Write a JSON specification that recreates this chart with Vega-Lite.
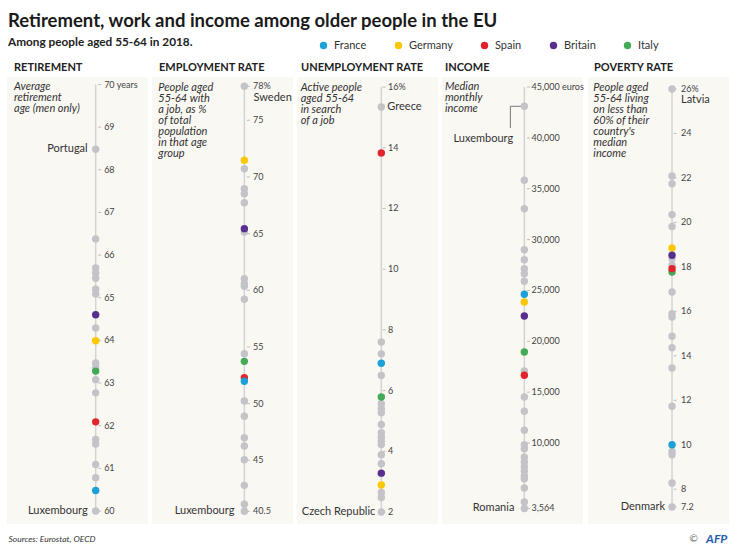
{
  "$schema": "https://vega.github.io/schema/vega-lite/v6.json",
  "background": "white",
  "padding": {"left": 7, "top": 11, "right": 5, "bottom": 1},
  "config": {"font": "Lato", "view": {"stroke": null}},
  "title": {
    "text": "Retirement, work and income among older people in the EU",
    "subtitle": "Among people aged 55-64 in 2018.",
    "anchor": "start", "font": "Lato", "fontSize": 18.5, "fontWeight": "bold", "color": "#1a1a1a",
    "subtitleFont": "Lato", "subtitleFontSize": 11.8, "subtitleFontWeight": "bold", "subtitleColor": "#222",
    "subtitlePadding": 7, "offset": -9, "dx": 1
  },
  "datasets": {
    "retirement": [
      {"country": "Portugal", "value": 68.48},
      {"country": "Other", "value": 66.38},
      {"country": "Other", "value": 65.70},
      {"country": "Other", "value": 65.58},
      {"country": "Other", "value": 65.46},
      {"country": "Other", "value": 65.20},
      {"country": "Other", "value": 65.09},
      {"country": "Other", "value": 64.29},
      {"country": "Other", "value": 63.47},
      {"country": "Other", "value": 63.36},
      {"country": "Other", "value": 63.08},
      {"country": "Other", "value": 62.77},
      {"country": "Other", "value": 61.68},
      {"country": "Other", "value": 61.57},
      {"country": "Other", "value": 61.09},
      {"country": "Other", "value": 60.78},
      {"country": "Luxembourg", "value": 60.0},
      {"country": "Britain", "value": 64.60},
      {"country": "Germany", "value": 63.99},
      {"country": "Italy", "value": 63.28},
      {"country": "Spain", "value": 62.09},
      {"country": "France", "value": 60.48}
    ],
    "retirement_ticks": [
      {"tick": 70, "label": "70 years"}, {"tick": 69, "label": "69"}, {"tick": 68, "label": "68"},
      {"tick": 67, "label": "67"}, {"tick": 66, "label": "66"}, {"tick": 65, "label": "65"},
      {"tick": 64, "label": "64"}, {"tick": 63, "label": "63"}, {"tick": 62, "label": "62"},
      {"tick": 61, "label": "61"}, {"tick": 60, "label": "60"}
    ],
    "employment": [
      {"country": "Sweden", "value": 78.0},
      {"country": "Other", "value": 70.73},
      {"country": "Other", "value": 68.96},
      {"country": "Other", "value": 68.52},
      {"country": "Other", "value": 67.73},
      {"country": "Other", "value": 65.14},
      {"country": "Other", "value": 61.02},
      {"country": "Other", "value": 60.58},
      {"country": "Other", "value": 60.35},
      {"country": "Other", "value": 59.21},
      {"country": "Other", "value": 54.41},
      {"country": "Other", "value": 50.23},
      {"country": "Other", "value": 48.88},
      {"country": "Other", "value": 46.99},
      {"country": "Other", "value": 46.26},
      {"country": "Other", "value": 45.05},
      {"country": "Other", "value": 42.79},
      {"country": "Other", "value": 41.12},
      {"country": "Luxembourg", "value": 40.5},
      {"country": "Germany", "value": 71.47},
      {"country": "Britain", "value": 65.44},
      {"country": "Italy", "value": 53.73},
      {"country": "Spain", "value": 52.29},
      {"country": "France", "value": 51.97}
    ],
    "employment_ticks": [
      {"tick": 78, "label": "78%"}, {"tick": 75, "label": "75"}, {"tick": 70, "label": "70"},
      {"tick": 65, "label": "65"}, {"tick": 60, "label": "60"}, {"tick": 55, "label": "55"},
      {"tick": 50, "label": "50"}, {"tick": 45, "label": "45"}, {"tick": 40.5, "label": "40.5"}
    ],
    "unemployment": [
      {"country": "Greece", "value": 15.34},
      {"country": "Other", "value": 7.60},
      {"country": "Other", "value": 7.21},
      {"country": "Other", "value": 6.50},
      {"country": "Other", "value": 5.57},
      {"country": "Other", "value": 5.40},
      {"country": "Other", "value": 5.27},
      {"country": "Other", "value": 4.88},
      {"country": "Other", "value": 4.61},
      {"country": "Other", "value": 4.47},
      {"country": "Other", "value": 4.33},
      {"country": "Other", "value": 4.22},
      {"country": "Other", "value": 3.89},
      {"country": "Other", "value": 3.59},
      {"country": "Other", "value": 2.64},
      {"country": "Other", "value": 2.48},
      {"country": "Czech Republic", "value": 2.0},
      {"country": "Spain", "value": 13.83},
      {"country": "France", "value": 6.90},
      {"country": "Italy", "value": 5.79},
      {"country": "Britain", "value": 3.28},
      {"country": "Germany", "value": 2.89}
    ],
    "unemployment_ticks": [
      {"tick": 16, "label": "16%"}, {"tick": 14, "label": "14"}, {"tick": 12, "label": "12"},
      {"tick": 10, "label": "10"}, {"tick": 8, "label": "8"}, {"tick": 6, "label": "6"},
      {"tick": 4, "label": "4"}, {"tick": 2, "label": "2"}
    ],
    "income": [
      {"country": "Luxembourg", "value": 43103},
      {"country": "Other", "value": 35828},
      {"country": "Other", "value": 33036},
      {"country": "Other", "value": 29005},
      {"country": "Other", "value": 28022},
      {"country": "Other", "value": 27137},
      {"country": "Other", "value": 26646},
      {"country": "Other", "value": 25898},
      {"country": "Other", "value": 17080},
      {"country": "Other", "value": 14524},
      {"country": "Other", "value": 13118},
      {"country": "Other", "value": 11251},
      {"country": "Other", "value": 9835},
      {"country": "Other", "value": 9442},
      {"country": "Other", "value": 8596},
      {"country": "Other", "value": 8134},
      {"country": "Other", "value": 7672},
      {"country": "Other", "value": 7220},
      {"country": "Other", "value": 6758},
      {"country": "Other", "value": 6493},
      {"country": "Other", "value": 5578},
      {"country": "Other", "value": 4202},
      {"country": "Romania", "value": 3564},
      {"country": "France", "value": 24620},
      {"country": "Germany", "value": 23863},
      {"country": "Britain", "value": 22487},
      {"country": "Italy", "value": 18948},
      {"country": "Spain", "value": 16657}
    ],
    "income_ticks": [
      {"tick": 45000, "label": "45,000 euros"}, {"tick": 40000, "label": "40,000"},
      {"tick": 35000, "label": "35,000"}, {"tick": 30000, "label": "30,000"},
      {"tick": 25000, "label": "25,000"}, {"tick": 20000, "label": "20,000"},
      {"tick": 15000, "label": "15,000"}, {"tick": 10000, "label": "10,000"},
      {"tick": 3564, "label": "3,564"}
    ],
    "poverty": [
      {"country": "Latvia", "value": 26.0},
      {"country": "Other", "value": 22.09},
      {"country": "Other", "value": 21.74},
      {"country": "Other", "value": 20.35},
      {"country": "Other", "value": 19.82},
      {"country": "Other", "value": 18.37},
      {"country": "Other", "value": 18.07},
      {"country": "Other", "value": 16.87},
      {"country": "Other", "value": 15.89},
      {"country": "Other", "value": 15.74},
      {"country": "Other", "value": 14.88},
      {"country": "Other", "value": 14.36},
      {"country": "Other", "value": 13.45},
      {"country": "Other", "value": 11.73},
      {"country": "Other", "value": 9.70},
      {"country": "Other", "value": 9.55},
      {"country": "Other", "value": 8.28},
      {"country": "Denmark", "value": 7.2},
      {"country": "Germany", "value": 18.85},
      {"country": "Italy", "value": 17.77},
      {"country": "Britain", "value": 18.52},
      {"country": "Spain", "value": 17.92},
      {"country": "France", "value": 10.0}
    ],
    "poverty_ticks": [
      {"tick": 26, "label": "26%"}, {"tick": 24, "label": "24"}, {"tick": 22, "label": "22"},
      {"tick": 20, "label": "20"}, {"tick": 18, "label": "18"}, {"tick": 16, "label": "16"},
      {"tick": 14, "label": "14"}, {"tick": 12, "label": "12"}, {"tick": 10, "label": "10"},
      {"tick": 8, "label": "8"}, {"tick": 7.2, "label": "7.2"}
    ]
  },
  "spacing": 9,
  "vconcat": [
    {
      "spacing": 4,
      "hconcat": [
        {
          "width": 141, "height": 447,
          "view": {"fill": "#faf8f3", "stroke": null},
          "title": {"text": "RETIREMENT", "anchor": "start", "font": "Lato", "fontSize": 11, "fontWeight": "bold", "color": "#222", "offset": 4, "dx": 7},
          "layer": [
            {"data": {"values": [{"low": 60, "high": 70}]}, "mark": {"type": "rule", "color": "#d4d4d4", "strokeWidth": 1.5},
             "encoding": {"x": {"datum": 0.629, "type": "quantitative", "scale": {"domain": [0, 1]}, "axis": null},
                          "y": {"field": "low", "type": "quantitative", "scale": {"domain": [59.695, 70.176], "nice": false, "zero": false}, "axis": null},
                          "y2": {"field": "high"}}},
            {"data": {"name": "retirement_ticks"}, "mark": {"type": "rule", "color": "#bbbbbb", "strokeWidth": 1},
             "encoding": {"x": {"datum": 0.647, "type": "quantitative"}, "x2": {"datum": 0.668}, "y": {"field": "tick", "type": "quantitative"}}},
            {"data": {"name": "retirement_ticks"}, "mark": {"type": "text", "align": "left", "baseline": "middle", "fontSize": 9, "color": "#444"},
             "encoding": {"x": {"datum": 0.689, "type": "quantitative"}, "y": {"field": "tick", "type": "quantitative"}, "text": {"field": "label"}}},
            {"data": {"name": "retirement"}, "transform": [{"filter": {"not": {"field": "country", "oneOf": ["France", "Germany", "Spain", "Britain", "Italy"]}}}],
             "mark": {"type": "circle", "size": 55, "opacity": 1, "color": "#c3c3c8"},
             "encoding": {"x": {"datum": 0.629, "type": "quantitative"}, "y": {"field": "value", "type": "quantitative"}}},
            {"data": {"name": "retirement"}, "transform": [{"filter": {"field": "country", "oneOf": ["France", "Germany", "Spain", "Britain", "Italy"]}}],
             "mark": {"type": "circle", "size": 55, "opacity": 1},
             "encoding": {"x": {"datum": 0.629, "type": "quantitative"}, "y": {"field": "value", "type": "quantitative"},
                          "color": {"field": "country", "type": "nominal",
                                    "scale": {"domain": ["France", "Germany", "Spain", "Britain", "Italy"], "range": ["#1ba1d8", "#fcc703", "#e1242b", "#57308e", "#45a95a"]},
                                    "legend": {"title": null, "orient": "none", "legendX": 311, "legendY": -37, "direction": "horizontal", "columns": 5, "gridAlign": "none", "columnPadding": 26, "symbolType": "circle", "symbolSize": 55, "symbolStrokeWidth": 0, "labelFont": "Lato", "labelFontSize": 11, "labelColor": "#333", "labelOffset": 5}}}},
            {"data": {"name": "retirement"}, "transform": [{"filter": {"field": "country", "oneOf": ["Portugal", "Luxembourg"]}}],
             "mark": {"type": "text", "align": "right", "baseline": "middle", "dx": -8, "fontSize": 11, "color": "#333"},
             "encoding": {"x": {"datum": 0.629, "type": "quantitative"}, "y": {"field": "value", "type": "quantitative"}, "text": {"field": "country"}}},
            {"data": {"values": [{"note": "Average\nretirement\nage (men only)"}]},
             "mark": {"type": "text", "align": "left", "baseline": "top", "lineBreak": "\n", "lineHeight": 11, "fontStyle": "italic", "fontSize": 11, "color": "#333", "dy": -3.5},
             "encoding": {"x": {"datum": 0.05, "type": "quantitative"}, "y": {"datum": 70, "type": "quantitative"}, "text": {"field": "note"}}}
          ]
        },
        {
          "width": 141, "height": 447,
          "view": {"fill": "#faf8f3", "stroke": null},
          "title": {"text": "EMPLOYMENT RATE", "anchor": "start", "font": "Lato", "fontSize": 11, "fontWeight": "bold", "color": "#222", "offset": 4, "dx": 7},
          "layer": [
            {"data": {"values": [{"low": 40.5, "high": 78}]}, "mark": {"type": "rule", "color": "#d4d4d4", "strokeWidth": 1.5},
             "encoding": {"x": {"datum": 0.655, "type": "quantitative", "scale": {"domain": [0, 1]}, "axis": null},
                          "y": {"field": "low", "type": "quantitative", "scale": {"domain": [39.38, 78.82], "nice": false, "zero": false}, "axis": null},
                          "y2": {"field": "high"}}},
            {"data": {"name": "employment_ticks"}, "mark": {"type": "rule", "color": "#bbbbbb", "strokeWidth": 1},
             "encoding": {"x": {"datum": 0.673, "type": "quantitative"}, "x2": {"datum": 0.694}, "y": {"field": "tick", "type": "quantitative"}}},
            {"data": {"name": "employment_ticks"}, "mark": {"type": "text", "align": "left", "baseline": "middle", "fontSize": 9, "color": "#444"},
             "encoding": {"x": {"datum": 0.717, "type": "quantitative"}, "y": {"field": "tick", "type": "quantitative"}, "text": {"field": "label"}}},
            {"data": {"name": "employment"}, "transform": [{"filter": {"not": {"field": "country", "oneOf": ["France", "Germany", "Spain", "Britain", "Italy"]}}}],
             "mark": {"type": "circle", "size": 55, "opacity": 1, "color": "#c3c3c8"},
             "encoding": {"x": {"datum": 0.655, "type": "quantitative"}, "y": {"field": "value", "type": "quantitative"}}},
            {"data": {"name": "employment"}, "transform": [{"filter": {"field": "country", "oneOf": ["France", "Germany", "Spain", "Britain", "Italy"]}}],
             "mark": {"type": "circle", "size": 55, "opacity": 1},
             "encoding": {"x": {"datum": 0.655, "type": "quantitative"}, "y": {"field": "value", "type": "quantitative"},
                          "color": {"field": "country", "type": "nominal",
                                    "scale": {"domain": ["France", "Germany", "Spain", "Britain", "Italy"], "range": ["#1ba1d8", "#fcc703", "#e1242b", "#57308e", "#45a95a"]},
                                    "legend": {"title": null, "orient": "none", "legendX": 311, "legendY": -37, "direction": "horizontal", "columns": 5, "gridAlign": "none", "columnPadding": 26, "symbolType": "circle", "symbolSize": 55, "symbolStrokeWidth": 0, "labelFont": "Lato", "labelFontSize": 11, "labelColor": "#333", "labelOffset": 5}}}},
            {"data": {"name": "employment"}, "transform": [{"filter": {"field": "country", "equal": "Luxembourg"}}],
             "mark": {"type": "text", "align": "right", "baseline": "middle", "dx": -10, "fontSize": 11, "color": "#333"},
             "encoding": {"x": {"datum": 0.655, "type": "quantitative"}, "y": {"field": "value", "type": "quantitative"}, "text": {"field": "country"}}},
            {"data": {"name": "employment"}, "transform": [{"filter": {"field": "country", "equal": "Sweden"}}],
             "mark": {"type": "text", "align": "left", "baseline": "middle", "dy": 11.5, "fontSize": 11, "color": "#333"},
             "encoding": {"x": {"datum": 0.72, "type": "quantitative"}, "y": {"field": "value", "type": "quantitative"}, "text": {"field": "country"}}},
            {"data": {"values": [{"note": "People aged\n55-64 with\na job, as %\nof total\npopulation\nin that age\ngroup"}]},
             "mark": {"type": "text", "align": "left", "baseline": "top", "lineBreak": "\n", "lineHeight": 11, "fontStyle": "italic", "fontSize": 11, "color": "#333", "dy": -4.5},
             "encoding": {"x": {"datum": 0.045, "type": "quantitative"}, "y": {"datum": 78, "type": "quantitative"}, "text": {"field": "note"}}}
          ]
        },
        {
          "width": 141, "height": 447,
          "view": {"fill": "#faf8f3", "stroke": null},
          "title": {"text": "UNEMPLOYMENT RATE", "anchor": "start", "font": "Lato", "fontSize": 11, "fontWeight": "bold", "color": "#222", "offset": 4, "dx": 4},
          "layer": [
            {"data": {"values": [{"low": 2, "high": 16}]}, "mark": {"type": "rule", "color": "#d4d4d4", "strokeWidth": 1.5},
             "encoding": {"x": {"datum": 0.598, "type": "quantitative", "scale": {"domain": [0, 1]}, "axis": null},
                          "y": {"field": "low", "type": "quantitative", "scale": {"domain": [1.605, 16.33], "nice": false, "zero": false}, "axis": null},
                          "y2": {"field": "high"}}},
            {"data": {"name": "unemployment_ticks"}, "mark": {"type": "rule", "color": "#bbbbbb", "strokeWidth": 1},
             "encoding": {"x": {"datum": 0.608, "type": "quantitative"}, "x2": {"datum": 0.628}, "y": {"field": "tick", "type": "quantitative"}}},
            {"data": {"name": "unemployment_ticks"}, "mark": {"type": "text", "align": "left", "baseline": "middle", "fontSize": 9, "color": "#444"},
             "encoding": {"x": {"datum": 0.645, "type": "quantitative"}, "y": {"field": "tick", "type": "quantitative"}, "text": {"field": "label"}}},
            {"data": {"name": "unemployment"}, "transform": [{"filter": {"not": {"field": "country", "oneOf": ["France", "Germany", "Spain", "Britain", "Italy"]}}}],
             "mark": {"type": "circle", "size": 55, "opacity": 1, "color": "#c3c3c8"},
             "encoding": {"x": {"datum": 0.598, "type": "quantitative"}, "y": {"field": "value", "type": "quantitative"}}},
            {"data": {"name": "unemployment"}, "transform": [{"filter": {"field": "country", "oneOf": ["France", "Germany", "Spain", "Britain", "Italy"]}}],
             "mark": {"type": "circle", "size": 55, "opacity": 1},
             "encoding": {"x": {"datum": 0.598, "type": "quantitative"}, "y": {"field": "value", "type": "quantitative"},
                          "color": {"field": "country", "type": "nominal",
                                    "scale": {"domain": ["France", "Germany", "Spain", "Britain", "Italy"], "range": ["#1ba1d8", "#fcc703", "#e1242b", "#57308e", "#45a95a"]},
                                    "legend": {"title": null, "orient": "none", "legendX": 311, "legendY": -37, "direction": "horizontal", "columns": 5, "gridAlign": "none", "columnPadding": 26, "symbolType": "circle", "symbolSize": 55, "symbolStrokeWidth": 0, "labelFont": "Lato", "labelFontSize": 11, "labelColor": "#333", "labelOffset": 5}}}},
            {"data": {"name": "unemployment"}, "transform": [{"filter": {"field": "country", "equal": "Czech Republic"}}],
             "mark": {"type": "text", "align": "right", "baseline": "middle", "dx": -6, "fontSize": 11, "color": "#333"},
             "encoding": {"x": {"datum": 0.598, "type": "quantitative"}, "y": {"field": "value", "type": "quantitative"}, "text": {"field": "country"}}},
            {"data": {"name": "unemployment"}, "transform": [{"filter": {"field": "country", "equal": "Greece"}}],
             "mark": {"type": "text", "align": "left", "baseline": "middle", "dx": 6, "fontSize": 11, "color": "#333"},
             "encoding": {"x": {"datum": 0.598, "type": "quantitative"}, "y": {"field": "value", "type": "quantitative"}, "text": {"field": "country"}}},
            {"data": {"values": [{"note": "Active people\naged 55-64\nin search\nof a job"}]},
             "mark": {"type": "text", "align": "left", "baseline": "top", "lineBreak": "\n", "lineHeight": 11, "fontStyle": "italic", "fontSize": 11, "color": "#333", "dy": -5},
             "encoding": {"x": {"datum": 0.026, "type": "quantitative"}, "y": {"datum": 16, "type": "quantitative"}, "text": {"field": "note"}}}
          ]
        },
        {
          "width": 141, "height": 447,
          "view": {"fill": "#faf8f3", "stroke": null},
          "title": {"text": "INCOME", "anchor": "start", "font": "Lato", "fontSize": 11, "fontWeight": "bold", "color": "#222", "offset": 4, "dx": 3},
          "layer": [
            {"data": {"values": [{"low": 3564, "high": 45000}]}, "mark": {"type": "rule", "color": "#d4d4d4", "strokeWidth": 1.5},
             "encoding": {"x": {"datum": 0.584, "type": "quantitative", "scale": {"domain": [0, 1]}, "axis": null},
                          "y": {"field": "low", "type": "quantitative", "scale": {"domain": [2040, 45983], "nice": false, "zero": false}, "axis": null},
                          "y2": {"field": "high"}}},
            {"data": {"name": "income_ticks"}, "mark": {"type": "rule", "color": "#bbbbbb", "strokeWidth": 1},
             "encoding": {"x": {"datum": 0.603, "type": "quantitative"}, "x2": {"datum": 0.623}, "y": {"field": "tick", "type": "quantitative"}}},
            {"data": {"name": "income_ticks"}, "mark": {"type": "text", "align": "left", "baseline": "middle", "fontSize": 9, "color": "#444"},
             "encoding": {"x": {"datum": 0.635, "type": "quantitative"}, "y": {"field": "tick", "type": "quantitative"}, "text": {"field": "label"}}},
            {"data": {"name": "income"}, "transform": [{"filter": {"field": "country", "equal": "Luxembourg"}}],
             "mark": {"type": "rule", "color": "#777777", "strokeWidth": 1},
             "encoding": {"x": {"datum": 0.584, "type": "quantitative"}, "x2": {"datum": 0.485}, "y": {"field": "value", "type": "quantitative"}}},
            {"data": {"name": "income"}, "transform": [{"filter": {"field": "country", "equal": "Luxembourg"}}],
             "mark": {"type": "rule", "color": "#777777", "strokeWidth": 1},
             "encoding": {"x": {"datum": 0.485, "type": "quantitative"}, "y": {"field": "value", "type": "quantitative"}, "y2": {"datum": 40969}}},
            {"data": {"name": "income"}, "transform": [{"filter": {"not": {"field": "country", "oneOf": ["France", "Germany", "Spain", "Britain", "Italy"]}}}],
             "mark": {"type": "circle", "size": 55, "opacity": 1, "color": "#c3c3c8"},
             "encoding": {"x": {"datum": 0.584, "type": "quantitative"}, "y": {"field": "value", "type": "quantitative"}}},
            {"data": {"name": "income"}, "transform": [{"filter": {"field": "country", "oneOf": ["France", "Germany", "Spain", "Britain", "Italy"]}}],
             "mark": {"type": "circle", "size": 55, "opacity": 1},
             "encoding": {"x": {"datum": 0.584, "type": "quantitative"}, "y": {"field": "value", "type": "quantitative"},
                          "color": {"field": "country", "type": "nominal",
                                    "scale": {"domain": ["France", "Germany", "Spain", "Britain", "Italy"], "range": ["#1ba1d8", "#fcc703", "#e1242b", "#57308e", "#45a95a"]},
                                    "legend": {"title": null, "orient": "none", "legendX": 311, "legendY": -37, "direction": "horizontal", "columns": 5, "gridAlign": "none", "columnPadding": 26, "symbolType": "circle", "symbolSize": 55, "symbolStrokeWidth": 0, "labelFont": "Lato", "labelFontSize": 11, "labelColor": "#333", "labelOffset": 5}}}},
            {"data": {"name": "income"}, "transform": [{"filter": {"field": "country", "equal": "Romania"}}],
             "mark": {"type": "text", "align": "right", "baseline": "middle", "dx": -10, "fontSize": 11, "color": "#333"},
             "encoding": {"x": {"datum": 0.584, "type": "quantitative"}, "y": {"field": "value", "type": "quantitative"}, "text": {"field": "country"}}},
            {"data": {"name": "income"}, "transform": [{"filter": {"field": "country", "equal": "Luxembourg"}}],
             "mark": {"type": "text", "align": "right", "baseline": "middle", "fontSize": 11, "color": "#333"},
             "encoding": {"x": {"datum": 0.505, "type": "quantitative"}, "y": {"datum": 39920, "type": "quantitative"}, "text": {"field": "country"}}},
            {"data": {"values": [{"note": "Median\nmonthly\nincome"}]},
             "mark": {"type": "text", "align": "left", "baseline": "top", "lineBreak": "\n", "lineHeight": 11, "fontStyle": "italic", "fontSize": 11, "color": "#333", "dy": -5.5},
             "encoding": {"x": {"datum": 0.021, "type": "quantitative"}, "y": {"datum": 45000, "type": "quantitative"}, "text": {"field": "note"}}}
          ]
        },
        {
          "width": 141, "height": 447,
          "view": {"fill": "#faf8f3", "stroke": null},
          "title": {"text": "POVERTY RATE", "anchor": "start", "font": "Lato", "fontSize": 11, "fontWeight": "bold", "color": "#222", "offset": 4, "dx": 6},
          "layer": [
            {"data": {"values": [{"low": 7.2, "high": 26}]}, "mark": {"type": "rule", "color": "#d4d4d4", "strokeWidth": 1.5},
             "encoding": {"x": {"datum": 0.596, "type": "quantitative", "scale": {"domain": [0, 1]}, "axis": null},
                          "y": {"field": "low", "type": "quantitative", "scale": {"domain": [6.435, 26.54], "nice": false, "zero": false}, "axis": null},
                          "y2": {"field": "high"}}},
            {"data": {"name": "poverty_ticks"}, "mark": {"type": "rule", "color": "#bbbbbb", "strokeWidth": 1},
             "encoding": {"x": {"datum": 0.608, "type": "quantitative"}, "x2": {"datum": 0.628}, "y": {"field": "tick", "type": "quantitative"}}},
            {"data": {"name": "poverty_ticks"}, "mark": {"type": "text", "align": "left", "baseline": "middle", "fontSize": 9, "color": "#444"},
             "encoding": {"x": {"datum": 0.66, "type": "quantitative"}, "y": {"field": "tick", "type": "quantitative"}, "text": {"field": "label"}}},
            {"data": {"name": "poverty"}, "transform": [{"filter": {"not": {"field": "country", "oneOf": ["France", "Germany", "Spain", "Britain", "Italy"]}}}],
             "mark": {"type": "circle", "size": 55, "opacity": 1, "color": "#c3c3c8"},
             "encoding": {"x": {"datum": 0.596, "type": "quantitative"}, "y": {"field": "value", "type": "quantitative"}}},
            {"data": {"name": "poverty"}, "transform": [{"filter": {"field": "country", "oneOf": ["France", "Germany", "Spain", "Britain", "Italy"]}}],
             "mark": {"type": "circle", "size": 55, "opacity": 1},
             "encoding": {"x": {"datum": 0.596, "type": "quantitative"}, "y": {"field": "value", "type": "quantitative"},
                          "color": {"field": "country", "type": "nominal",
                                    "scale": {"domain": ["France", "Germany", "Spain", "Britain", "Italy"], "range": ["#1ba1d8", "#fcc703", "#e1242b", "#57308e", "#45a95a"]},
                                    "legend": {"title": null, "orient": "none", "legendX": 311, "legendY": -37, "direction": "horizontal", "columns": 5, "gridAlign": "none", "columnPadding": 26, "symbolType": "circle", "symbolSize": 55, "symbolStrokeWidth": 0, "labelFont": "Lato", "labelFontSize": 11, "labelColor": "#333", "labelOffset": 5}}}},
            {"data": {"name": "poverty"}, "transform": [{"filter": {"field": "country", "equal": "Denmark"}}],
             "mark": {"type": "text", "align": "right", "baseline": "middle", "dx": -7, "fontSize": 11, "color": "#333"},
             "encoding": {"x": {"datum": 0.596, "type": "quantitative"}, "y": {"field": "value", "type": "quantitative"}, "text": {"field": "country"}}},
            {"data": {"name": "poverty"}, "transform": [{"filter": {"field": "country", "equal": "Latvia"}}],
             "mark": {"type": "text", "align": "left", "baseline": "middle", "dy": 11, "fontSize": 11, "color": "#333"},
             "encoding": {"x": {"datum": 0.66, "type": "quantitative"}, "y": {"field": "value", "type": "quantitative"}, "text": {"field": "country"}}},
            {"data": {"values": [{"note": "People aged\n55-64 living\non less than\n60% of their\ncountry's\nmedian\nincome"}]},
             "mark": {"type": "text", "align": "left", "baseline": "top", "lineBreak": "\n", "lineHeight": 11, "fontStyle": "italic", "fontSize": 11, "color": "#333", "dy": -7},
             "encoding": {"x": {"datum": 0.038, "type": "quantitative"}, "y": {"datum": 26, "type": "quantitative"}, "text": {"field": "note"}}}
          ]
        }
      ]
    },
    {
      "width": 721, "height": 10,
      "view": {"stroke": null},
      "data": {"values": [{"source": "Sources: Eurostat, OECD", "copy": "©", "credit": "AFP"}]},
      "layer": [
        {"mark": {"type": "text", "align": "left", "baseline": "middle", "fontStyle": "italic", "fontSize": 8.5, "color": "#333"},
         "encoding": {"x": {"datum": 0.002, "type": "quantitative", "scale": {"domain": [0, 1]}, "axis": null},
                      "y": {"datum": 0.5, "type": "quantitative", "scale": {"domain": [0, 1]}, "axis": null},
                      "text": {"field": "source"}}},
        {"mark": {"type": "text", "align": "right", "baseline": "middle", "fontSize": 10, "color": "#666"},
         "encoding": {"x": {"datum": 0.958, "type": "quantitative"}, "y": {"datum": 0.5, "type": "quantitative"}, "text": {"field": "copy"}}},
        {"mark": {"type": "text", "align": "right", "baseline": "middle", "fontStyle": "italic", "fontWeight": "bold", "fontSize": 12, "color": "#1f5db0"},
         "encoding": {"x": {"datum": 0.999, "type": "quantitative"}, "y": {"datum": 0.5, "type": "quantitative"}, "text": {"field": "credit"}}}
      ]
    }
  ]
}
